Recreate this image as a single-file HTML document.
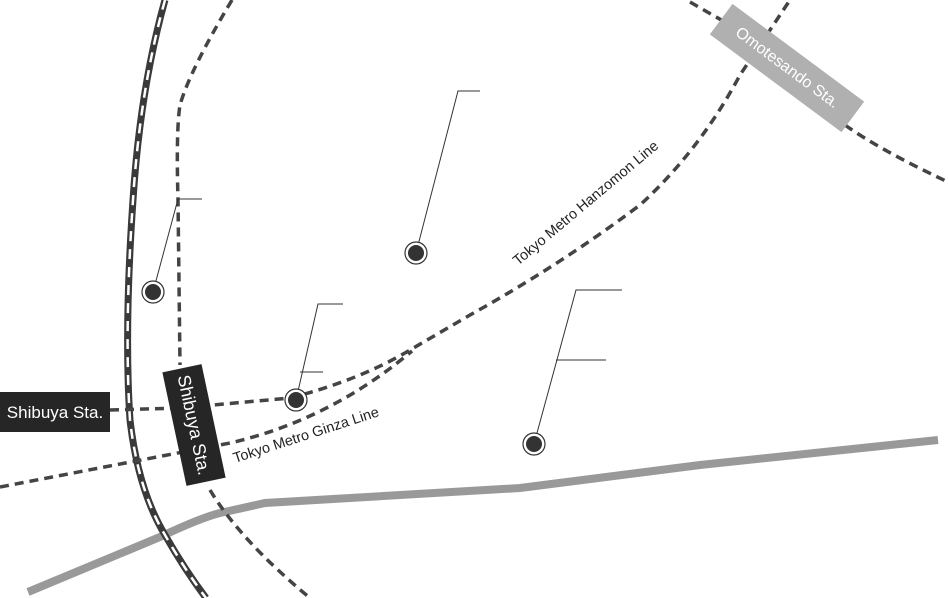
<!DOCTYPE html>
<html><head><meta charset="utf-8"><style>
html,body{margin:0;padding:0;background:#fff;}
svg{display:block;font-family:"Liberation Sans",sans-serif;}
</style></head><body>
<svg width="948" height="598" viewBox="0 0 948 598" xmlns="http://www.w3.org/2000/svg">
<path d="M28,592 L160,537 Q200,518 220,513 L265,503 L520,488 L700,465 L938,440" fill="none" stroke="#999" stroke-width="8"/>
<path d="M165,0 Q140,90 133,200 Q124,330 130,420 Q138,490 165,535 Q185,570 206,598" fill="none" stroke="#3a3a3a" stroke-width="7"/>
<path d="M165,0 Q140,90 133,200 Q124,330 130,420 Q138,490 165,535 Q185,570 206,598" fill="none" stroke="#fff" stroke-width="2.5" stroke-dasharray="10 8"/>
<g fill="none" stroke="#444" stroke-width="3.5" stroke-dasharray="9 6">
<path d="M232,0 Q190,70 180,105 Q176,130 178,200 L180,365"/>
<path d="M210,490 Q240,540 310,598"/>
<path d="M110,410 L180,408 L290,398 Q360,380 410,350 L470,315 Q560,265 640,205 Q700,150 740,75 L790,0"/>
<path d="M0,487 L230,443 Q330,420 412,351"/>
<path d="M690,2 L730,25"/>
<path d="M845,125 Q880,150 948,182"/>
</g>
<g fill="none" stroke="#333" stroke-width="1">
<path d="M416,253 L458,91 L480,91"/>
<path d="M153,292 L178,199 L202,199"/>
<path d="M296,400 L318,304 L343,304"/>
<path d="M300,372 L323,372"/>
<path d="M534,444 L576,290 L622,290"/>
<path d="M556,360 L606,360"/>
</g>
<g>
<circle cx="416" cy="253" r="11" fill="#fff" stroke="#333" stroke-width="1.2"/><circle cx="416" cy="253" r="8" fill="#333"/>
<circle cx="153" cy="292" r="11" fill="#fff" stroke="#333" stroke-width="1.2"/><circle cx="153" cy="292" r="8" fill="#333"/>
<circle cx="296" cy="400" r="11" fill="#fff" stroke="#333" stroke-width="1.2"/><circle cx="296" cy="400" r="8" fill="#333"/>
<circle cx="534" cy="444" r="11" fill="#fff" stroke="#333" stroke-width="1.2"/><circle cx="534" cy="444" r="8" fill="#333"/>
</g>
<text x="0" y="0" font-size="14.5" fill="#222" transform="translate(235,463) rotate(-18)">Tokyo Metro Ginza Line</text>
<text x="0" y="0" font-size="14.5" fill="#222" transform="translate(518,266) rotate(-40)">Tokyo Metro  Hanzomon Line</text>
<g transform="translate(194,425) rotate(-12)">
<rect x="-20" y="-58" width="40" height="116" fill="#262626"/>
<text x="0" y="0" font-size="18" fill="#fff" text-anchor="middle" dominant-baseline="central" transform="rotate(90)">Shibuya Sta.</text>
</g>
<rect x="0" y="392" width="110" height="40" fill="#262626"/>
<text x="55" y="418" font-size="17" fill="#fff" text-anchor="middle">Shibuya Sta.</text>
<g transform="translate(787,68) rotate(36.6)">
<rect x="-82" y="-19" width="164" height="38" fill="#b0b0b0"/>
<text x="0" y="0" font-size="16" fill="#fff" text-anchor="middle" dominant-baseline="central">Omotesando Sta.</text>
</g>
</svg>
</body></html>
